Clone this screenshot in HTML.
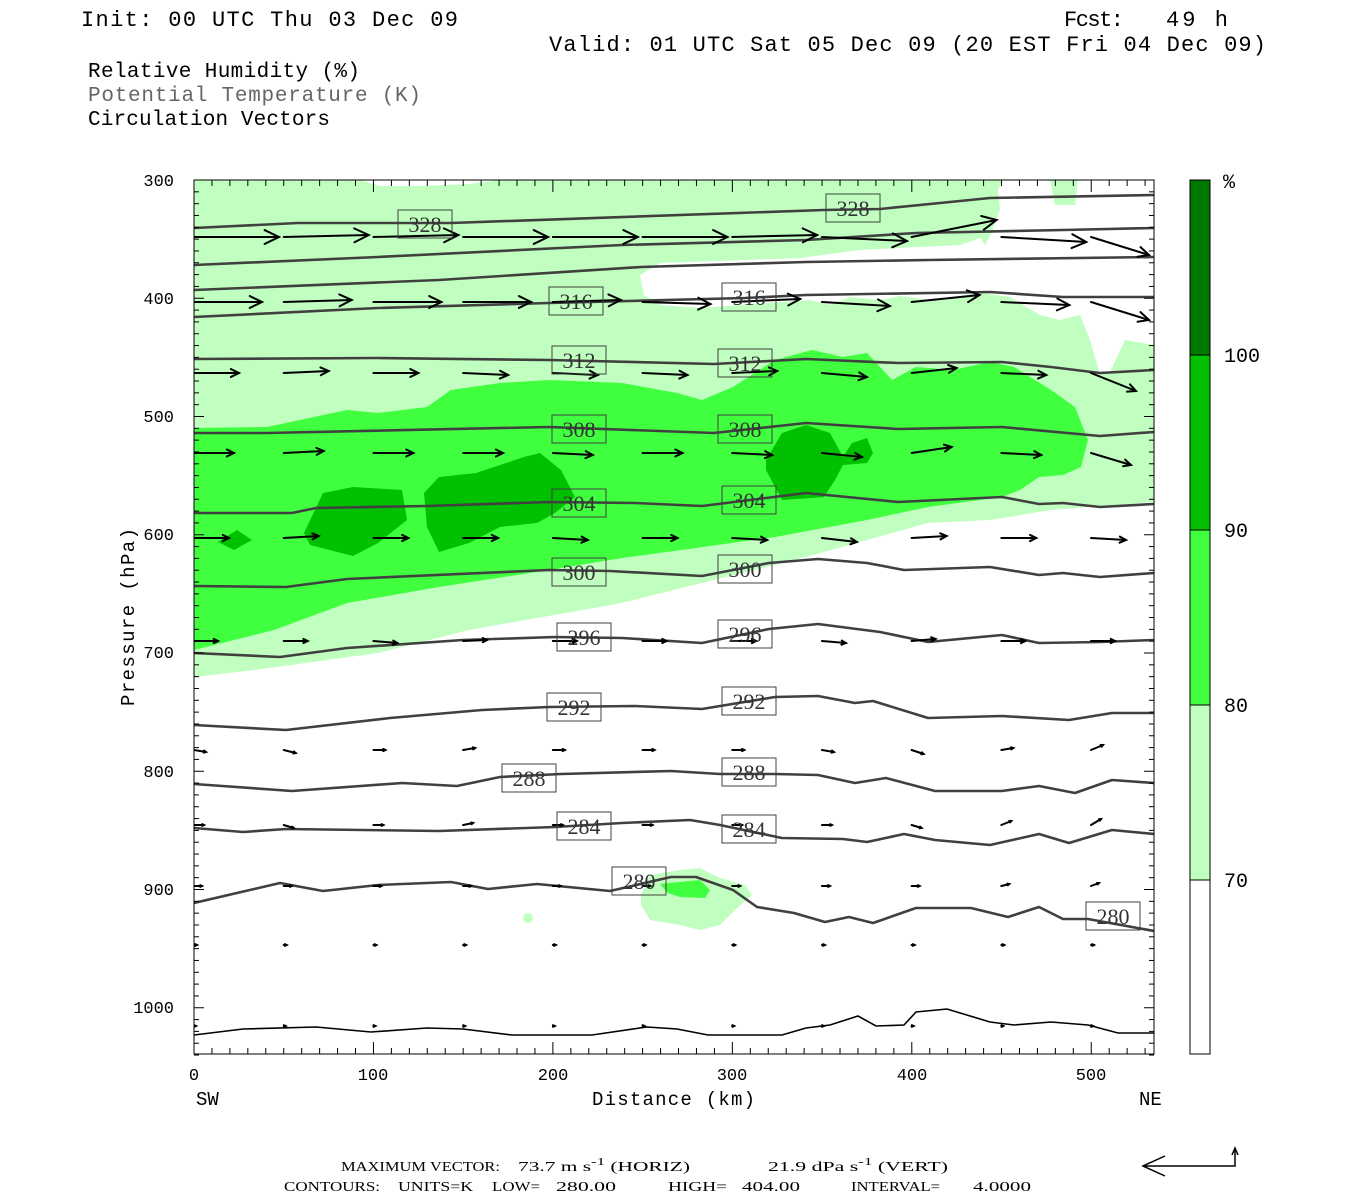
<!DOCTYPE html>
<html><head><meta charset="utf-8"><style>
html,body{margin:0;padding:0;background:#fff;}
svg{display:block;}
text{font-family:"Liberation Mono",monospace;}
.lb{font-family:"Liberation Serif",serif;font-size:22px;fill:#333;}
.ft{font-family:"Liberation Serif",serif;font-size:14px;}
</style></head><body>
<svg id="s" width="1350" height="1200" viewBox="0 0 1350 1200" xmlns="http://www.w3.org/2000/svg">
<rect width="1350" height="1200" fill="#fff"/>
<text x="81" y="26" font-size="22" textLength="377" lengthAdjust="spacing">Init: 00 UTC Thu 03 Dec 09</text>
<text x="1064" y="26" font-size="22" textLength="60" lengthAdjust="spacing">Fcst:</text>
<text x="1166" y="26" font-size="22" textLength="62" lengthAdjust="spacing">49 h</text>
<text x="549" y="51" font-size="22" textLength="717" lengthAdjust="spacing">Valid: 01 UTC Sat 05 Dec 09 (20 EST Fri 04 Dec 09)</text>
<text x="88" y="77" font-size="21" textLength="272" lengthAdjust="spacing">Relative Humidity (%)</text>
<text x="88" y="101" font-size="21" fill="#666" textLength="333" lengthAdjust="spacing">Potential Temperature (K)</text>
<text x="88" y="125" font-size="21" textLength="242" lengthAdjust="spacing">Circulation Vectors</text>

<clipPath id="pc"><rect x="194" y="180" width="960" height="874"/></clipPath>
<g clip-path="url(#pc)">
<polygon fill="#c0ffc0" points="194,180 1154,180 1154,502 1051,510 990,520 928,523 867,540 806,557 702,583 622,603 469,630 378,653 255,670 194,677"/>
<polygon fill="#fff" points="1003,180 1154,180 1154,345 1125,340 1110,372 1100,375 1090,340 1080,315 1060,320 1040,315 1010,297 980,293 960,296 930,300 900,296 880,300 850,297 830,305 810,300 780,302 740,305 700,308 660,305 644,295 640,275 660,263 800,258 860,250 960,245 990,235 1000,210 998,190"/>
<polygon fill="#c0ffc0" points="855,180 870,195 900,212 930,215 950,200 960,180"/>
<polygon fill="#c0ffc0" points="968,180 975,230 985,245 993,230 990,180"/>
<polygon fill="#c0ffc0" points="1050,180 1055,205 1075,205 1078,180"/>
<polygon fill="#fff" points="360,180 380,186 420,186 470,184 500,180"/>
<polygon fill="#3fff3f" points="194,428 267,427 347,410 378,413 427,407 451,390 500,383 549,380 622,383 677,393 702,400 733,387 775,360 812,350 843,357 867,353 892,380 916,367 953,370 990,362 1014,367 1051,390 1075,407 1088,440 1081,467 1063,475 1039,477 1020,490 1002,497 928,507 867,520 775,537 696,548 622,558 549,570 439,587 347,603 274,630 194,650"/>
<g fill="#00c000">
<polygon points="218,542 237,530 252,540 234,550"/>
<polygon points="304,533 323,493 353,487 402,490 407,520 378,543 353,556 310,545"/>
<polygon points="424,493 439,477 476,473 524,457 540,453 561,470 575,497 555,513 537,523 500,527 469,543 439,552 427,527"/>
<polygon points="766,460 782,433 806,425 830,433 843,457 852,443 867,438 873,453 867,463 843,465 835,480 824,497 782,500 766,470"/>
</g>
<polygon fill="#c0ffc0" points="641,895 650,875 680,870 700,868 720,878 745,885 752,895 735,910 720,925 700,930 680,925 650,920 641,905"/>
<polygon fill="#3fff3f" points="660,884 700,880 710,890 705,898 680,897 668,893"/>
<ellipse cx="528" cy="918" rx="5" ry="5" fill="#c0ffc0"/>

<g fill="none" stroke="#404040" stroke-width="2.6" stroke-linejoin="round">
<polyline points="194,228 298,223 451,223 824,210 880,209 990,198 1154,195"/>
<polyline points="194,265 378,257 622,245 806,240 916,233 1063,230 1154,228"/>
<polyline points="194,290 439,280 641,267 806,262 928,260 1154,257"/>
<polyline points="194,317 378,308 549,303 745,298 806,295 990,292 1063,297 1154,297"/>
<polyline points="194,359 378,358 549,360 714,364 806,359 898,363 1002,362 1051,367 1100,373 1154,370"/>
<polyline points="194,433 267,433 549,427 714,433 806,423 898,429 1002,427 1100,436 1154,432"/>
<polyline points="194,513 292,513 316,508 427,506 549,502 635,503 702,506 726,503 806,493 898,502 1002,497 1039,504 1063,503 1100,507 1154,504"/>
<polyline points="194,586 286,587 347,579 549,570 610,571 702,576 769,563 818,559 867,563 904,570 990,567 1039,575 1063,573 1100,577 1154,573"/>
<polyline points="194,653 280,657 347,648 463,640 555,637 622,638 702,643 769,629 818,624 880,632 928,642 1002,635 1039,643 1100,642 1154,640"/>
<polyline points="194,725 286,730 390,718 482,710 549,707 635,706 702,709 775,697 818,696 855,703 873,701 928,718 1002,716 1069,720 1112,713 1154,713"/>
<polyline points="194,784 292,791 402,783 457,786 500,777 561,774 671,771 720,774 775,774 818,775 855,783 886,778 935,791 1002,791 1039,786 1075,793 1112,780 1154,783"/>
<polyline points="194,828 243,832 286,829 439,831 555,827 622,823 690,820 720,825 782,838 843,839 867,842 904,834 935,840 990,845 1039,834 1069,843 1112,830 1154,834"/>
<polyline points="194,903 280,883 323,891 378,885 451,882 488,889 537,884 610,891 671,877 696,877 733,890 757,907 794,913 825,922 849,917 873,923 916,908 971,908 1008,917 1039,907 1063,919 1088,919 1154,931"/>
</g>
<polyline fill="none" stroke="#000" stroke-width="1.6" points="194,1035 243,1029 316,1027 371,1032 427,1028 463,1029 512,1035 592,1035 647,1027 677,1029 708,1035 782,1035 806,1028 830,1025 858,1016 876,1026 904,1025 916,1012 947,1009 990,1022 1014,1025 1051,1022 1088,1025 1118,1033 1154,1033"/>
<g id="arrows" stroke="#000" fill="none" stroke-width="2" stroke-linecap="round"></g>
<g id="labels"></g>
</g>
<rect x="194" y="180" width="960" height="874" fill="none" stroke="#000" stroke-width="1"/>
<g id="ticks" stroke="#000" stroke-width="1"></g>
<g font-size="17" text-anchor="end">
<text x="174" y="186">300</text><text x="174" y="304">400</text><text x="174" y="422">500</text><text x="174" y="540">600</text><text x="174" y="658">700</text><text x="174" y="777">800</text><text x="174" y="895">900</text><text x="174" y="1013">1000</text>
</g>
<text transform="translate(134,617) rotate(-90)" font-size="19" text-anchor="middle" textLength="178" lengthAdjust="spacing">Pressure (hPa)</text>
<g font-size="17" text-anchor="middle">
<text x="194" y="1080">0</text><text x="373" y="1080">100</text><text x="553" y="1080">200</text><text x="732" y="1080">300</text><text x="912" y="1080">400</text><text x="1091" y="1080">500</text>
</g>
<text x="196" y="1105" font-size="19">SW</text>
<text x="1139" y="1105" font-size="19">NE</text>
<text x="592" y="1105" font-size="19" textLength="163" lengthAdjust="spacing">Distance (km)</text>
<rect x="1190" y="180" width="20" height="175" fill="#007800"/>
<rect x="1190" y="355" width="20" height="175" fill="#00c000"/>
<rect x="1190" y="530" width="20" height="175" fill="#3fff3f"/>
<rect x="1190" y="705" width="20" height="175" fill="#c0ffc0"/>
<rect x="1190" y="880" width="20" height="174" fill="#fff"/>
<g stroke="#000" stroke-width="1"><rect x="1190" y="180" width="20" height="874" fill="none"/><line x1="1190" y1="355" x2="1210" y2="355"/><line x1="1190" y1="530" x2="1210" y2="530"/><line x1="1190" y1="705" x2="1210" y2="705"/><line x1="1190" y1="880" x2="1210" y2="880"/></g>
<g font-size="20"><text x="1223" y="188">%</text><text x="1224" y="362">100</text><text x="1224" y="537">90</text><text x="1224" y="712">80</text><text x="1224" y="887">70</text></g>
<text class="ft" x="341" y="1171" textLength="159" lengthAdjust="spacingAndGlyphs">MAXIMUM VECTOR:</text>
<text class="ft" x="518" y="1171" font-size="17" textLength="172" lengthAdjust="spacingAndGlyphs">73.7 m s<tspan dy="-6" font-size="11">-1</tspan><tspan dy="6"> (HORIZ)</tspan></text>
<text class="ft" x="768" y="1171" font-size="17" textLength="180" lengthAdjust="spacingAndGlyphs">21.9 dPa s<tspan dy="-6" font-size="11">-1</tspan><tspan dy="6"> (VERT)</tspan></text>
<text class="ft" x="284" y="1191" textLength="96" lengthAdjust="spacingAndGlyphs">CONTOURS:</text>
<text class="ft" x="398" y="1191" textLength="75" lengthAdjust="spacingAndGlyphs">UNITS=K</text>
<text class="ft" x="492" y="1191" textLength="48" lengthAdjust="spacingAndGlyphs">LOW=</text>
<text class="ft" x="556" y="1191" textLength="60" lengthAdjust="spacingAndGlyphs">280.00</text>
<text class="ft" x="668" y="1191" textLength="59" lengthAdjust="spacingAndGlyphs">HIGH=</text>
<text class="ft" x="742" y="1191" textLength="58" lengthAdjust="spacingAndGlyphs">404.00</text>
<text class="ft" x="851" y="1191" textLength="89" lengthAdjust="spacingAndGlyphs">INTERVAL=</text>
<text class="ft" x="973" y="1191" textLength="58" lengthAdjust="spacingAndGlyphs">4.0000</text>
<g stroke="#000" stroke-width="1.5" fill="none"><polyline points="1143,1166 1235,1166 1235,1150"/><polyline points="1165,1156 1143,1166 1165,1176"/><polyline points="1232,1155 1235,1148 1238,1155"/></g>
</svg>
<script>
var NS="http://www.w3.org/2000/svg";
function el(p,t,a){var e=document.createElementNS(NS,t);for(var k in a)e.setAttribute(k,a[k]);p.appendChild(e);return e;}
var tk=document.getElementById('ticks');
for(var p=300;p<=1040;p+=10){var y=180+(p-300)*1.1825;var L=(p%100==0)?10:5;
el(tk,'line',{x1:194,y1:y,x2:194+L,y2:y});el(tk,'line',{x1:1154,y1:y,x2:1154-L,y2:y});}
for(var d=0;d<=535;d+=10){var x=194+d*1.7945;var L=(d%100==0)?12:6;
el(tk,'line',{x1:x,y1:1054,x2:x,y2:1054-L});el(tk,'line',{x1:x,y1:180,x2:x,y2:180+L});}
var ag=document.getElementById('arrows');
var rows=[[237,85,[0,-2,-2,0,0,0,-2,4,-17,5,18]],[302,68,[0,-2,0,0,-2,2,-3,4,-7,3,18]],[373,45,[0,-2,0,2,2,2,-2,4,-5,2,18]],
[453,40,[0,-2,0,0,2,0,2,4,-6,2,12]],[538,35,[0,-2,0,0,2,0,2,4,-2,0,2]],[641,24,[0,0,2,-1,0,0,0,2,-2,0,0]],
[750,12,[2,3,0,-2,0,0,0,2,4,-2,-5]],[825,10,[0,3,0,-2,0,0,0,0,3,-4,-6]],[886,8,[0,0,0,0,0,0,0,0,0,-2,-3]],[945,3,[0,0,0,0,0,0,0,0,0,0,0]],[1026,2,[0,0,0,0,0,0,0,0,0,0,0]]];
rows.forEach(function(r){for(var i=0;i<11;i++){var x0=194+i*89.7,y0=r[0],len=r[1],dy=r[2][i];if(i==10&&len>50)len=58;
var x1=x0+len,y1=y0+dy;el(ag,'line',{x1:x0,y1:y0,x2:x1,y2:y1});
var ang=Math.atan2(dy,len),h=Math.max(2,Math.min(16,len*0.2)),a=0.45;
el(ag,'polyline',{points:(x1-h*Math.cos(ang-a))+','+(y1-h*Math.sin(ang-a))+' '+x1+','+y1+' '+(x1-h*Math.cos(ang+a))+','+(y1-h*Math.sin(ang+a))});}});
var lg=document.getElementById('labels');
var labs=[[328,425,224],[328,853,208],[316,576,301],[316,749,297],[312,579,360],[312,745,363],[308,579,429],[308,745,429],[304,579,503],[304,749,500],[300,579,572],[300,745,569],[296,584,637],[296,745,634],[292,574,707],[292,749,701],[288,529,778],[288,749,772],[284,584,826],[284,749,829],[280,639,881],[280,1113,916]];
labs.forEach(function(l){el(lg,'rect',{x:l[1]-27,y:l[2]-14,width:54,height:28,fill:'none',stroke:'#404040','stroke-width':1});
var t=el(lg,'text',{x:l[1],y:l[2]+8,'text-anchor':'middle','class':'lb'});t.textContent=l[0];});
</script>
</body></html>
